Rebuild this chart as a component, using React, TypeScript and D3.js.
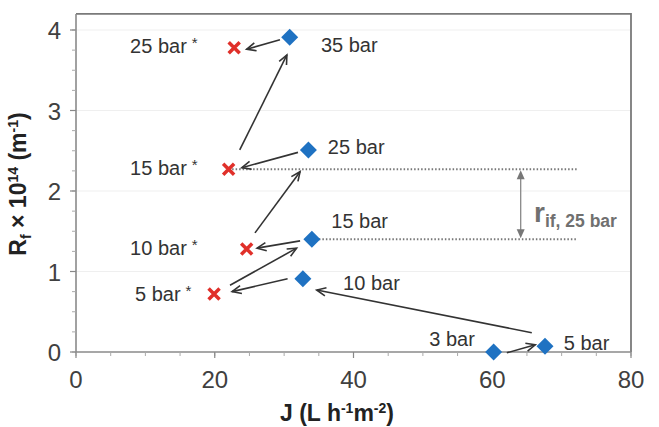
import React from "react";
import * as d3 from "d3";

const W = 659, H = 427;
const xTicks = [0, 20, 40, 60, 80];
const yTicks = [0, 1, 2, 3, 4];

// blue diamonds: J, Rf, label
const diamondJ = [30.8, 33.5, 34.0, 32.7, 67.6, 60.2];
const diamondR = [3.91, 2.51, 1.40, 0.91, 0.07, 0.0];
const diamondLabels = ["35 bar", "25 bar", "15 bar", "10 bar", "5 bar", "3 bar"];

// red crosses
const crossJ = [22.8, 22.0, 24.6, 19.9];
const crossR = [3.78, 2.27, 1.28, 0.72];
const crossLabels = ["25 bar", "15 bar", "10 bar", "5 bar"];

// arrows [x1,y1,x2,y2] in data units (head at second point)
const arrows = [
  [29.4, 3.88, 24.6, 3.76],
  [23.6, 2.51, 30.4, 3.69],
  [32.0, 2.48, 23.9, 2.29],
  [25.8, 1.48, 32.3, 2.24],
  [32.3, 1.38, 26.1, 1.29],
  [22.2, 0.83, 31.8, 1.29],
  [30.5, 0.91, 22.5, 0.75],
  [65.7, 0.24, 34.7, 0.77],
  [62.1, -0.01, 66.2, 0.09],
];

// label positions in data units [x, y, anchor]
const diamondLabelPos = [
  [35.3, 3.73, "start"],
  [36.3, 2.46, "start"],
  [36.8, 1.54, "start"],
  [38.5, 0.77, "start"],
  [70.3, 0.02, "start"],
  [57.5, 0.07, "end"],
];
const crossLabelPos = [
  [7.8, 3.72, "start"],
  [7.8, 2.20, "start"],
  [7.8, 1.20, "start"],
  [8.5, 0.63, "start"],
];

const dottedLines = [
  [22.0, 2.27, 72.3],
  [34.0, 1.40, 72.3],
];

export default function App() {
  const x = d3.scaleLinear().domain([0, 80]).range([76, 631]);
  const y = d3.scaleLinear().domain([0, 4]).range([352, 30]);
  const top = y(4.2);
  const minorX = d3.range(0, 81, 5);
  const minorY = d3.range(0, 4.21, 0.25);
  const sans = "Liberation Sans, Arial, sans-serif";

  const arrowHead = (x1: number, y1: number, x2: number, y2: number, len = 10, ang = 0.42) => {
    const a = Math.atan2(y2 - y1, x2 - x1);
    const p1 = [x2 - len * Math.cos(a - ang), y2 - len * Math.sin(a - ang)];
    const p2 = [x2 - len * Math.cos(a + ang), y2 - len * Math.sin(a + ang)];
    return `M${p1[0]},${p1[1]}L${x2},${y2}L${p2[0]},${p2[1]}`;
  };

  const dArrowX = x(64.1);
  const dTop = y(2.27), dBot = y(1.40);

  return (
    <svg width={W} height={H} style={{ position: "absolute", left: 0, top: 0, background: "#fff" }}>
      {/* gridlines */}
      {yTicks.filter((t) => t > 0).map((t) => (
        <line key={"g" + t} x1={x(0)} x2={x(80)} y1={y(t)} y2={y(t)} stroke="#efefef" strokeWidth={1.2} />
      ))}
      {/* frame */}
      <path d={`M${x(0)},${top}H${x(80)}V${y(0)}`} fill="none" stroke="#7a7a7a" strokeWidth={1.8} />
      <path d={`M${x(0)},${top}V${y(0)}H${x(80)}`} fill="none" stroke="#8a8a8a" strokeWidth={1.6} />
      {/* minor ticks */}
      {minorX.map((t) => (
        <line key={"mx" + t} x1={x(t)} x2={x(t)} y1={y(0)} y2={y(0) + 4} stroke="#aaa" strokeWidth={1} />
      ))}
      {minorY.map((t) => (
        <line key={"my" + t} x1={x(0) - 4} x2={x(0)} y1={y(t)} y2={y(t)} stroke="#aaa" strokeWidth={1} />
      ))}
      {xTicks.map((t) => (
        <line key={"tx" + t} x1={x(t)} x2={x(t)} y1={y(0)} y2={y(0) + 6} stroke="#888" strokeWidth={1.2} />
      ))}
      {yTicks.map((t) => (
        <line key={"ty" + t} x1={x(0) - 6} x2={x(0)} y1={y(t)} y2={y(t)} stroke="#888" strokeWidth={1.2} />
      ))}
      {/* tick labels */}
      {xTicks.map((t) => (
        <text key={"lx" + t} x={x(t)} y={y(0) + 36} textAnchor="middle" fontFamily={sans} fontSize={24} fill="#404040">{t}</text>
      ))}
      {yTicks.map((t) => (
        <text key={"ly" + t} x={x(0) - 15} y={y(t) + 9} textAnchor="end" fontFamily={sans} fontSize={24} fill="#404040">{t}</text>
      ))}
      {/* axis titles */}
      <text x={337} y={421} textAnchor="middle" fontFamily={sans} fontSize={23} fontWeight="bold" fill="#222">
        J (L h<tspan dy={-8} fontSize={14}>-1</tspan><tspan dy={8}>m</tspan><tspan dy={-8} fontSize={14}>-2</tspan><tspan dy={8}>)</tspan>
      </text>
      <text transform="translate(26,184) rotate(-90)" textAnchor="middle" fontFamily={sans} fontSize={23} fontWeight="bold" fill="#222">
        R<tspan dy={5} fontSize={14}>f</tspan><tspan dy={-5}> × 10</tspan><tspan dy={-8} fontSize={14}>14</tspan><tspan dy={8}> (m</tspan><tspan dy={-8} fontSize={14}>-1</tspan><tspan dy={8}>)</tspan>
      </text>
      {/* dotted lines */}
      {dottedLines.map(([x1, yy, x2], i) => (
        <line key={"d" + i} x1={x(x1)} x2={x(x2)} y1={y(yy)} y2={y(yy)} stroke="#777" strokeWidth={2} strokeDasharray="1.5,2" />
      ))}
      {/* double arrow */}
      <line x1={dArrowX} x2={dArrowX} y1={dTop + 8} y2={dBot - 8} stroke="#888" strokeWidth={1.3} />
      <path d={`M${dArrowX},${dTop + 1}L${dArrowX - 4},${dTop + 10}L${dArrowX + 4},${dTop + 10}Z`} fill="#777" />
      <path d={`M${dArrowX},${dBot - 1}L${dArrowX - 4},${dBot - 10}L${dArrowX + 4},${dBot - 10}Z`} fill="#777" />
      <text x={534} y={222} fontFamily={sans} fontWeight="bold" fill="#707070" fontSize={28}>
        r<tspan dy={5} fontSize={17.5}>if, 25 bar</tspan>
      </text>
      {/* arrows */}
      {arrows.map(([x1, y1, x2, y2], i) => (
        <g key={"a" + i} stroke="#333" strokeWidth={1.6} fill="none">
          <line x1={x(x1)} y1={y(y1)} x2={x(x2)} y2={y(y2)} />
          <path d={arrowHead(x(x1), y(y1), x(x2), y(y2))} />
        </g>
      ))}
      {/* diamonds */}
      {diamondJ.map((j, i) => {
        const cx = x(j), cy = y(diamondR[i]), s = 8.5;
        return <path key={"dm" + i} d={`M${cx},${cy - s}L${cx + s},${cy}L${cx},${cy + s}L${cx - s},${cy}Z`} fill="#1f72c2" />;
      })}
      {/* crosses */}
      {crossJ.map((j, i) => {
        const cx = x(j), cy = y(crossR[i]), s = 5.5;
        return (
          <path key={"cr" + i} d={`M${cx - s},${cy - s}L${cx + s},${cy + s}M${cx - s},${cy + s}L${cx + s},${cy - s}`} stroke="#e0302a" strokeWidth={3.5} />
        );
      })}
      {/* labels */}
      {diamondLabels.map((l, i) => {
        const [lx, ly, anc] = diamondLabelPos[i] as [number, number, string];
        return <text key={"dl" + i} x={x(lx)} y={y(ly)} textAnchor={anc as any} fontFamily={sans} fontSize={20} fill="#333">{l}</text>;
      })}
      {crossLabels.map((l, i) => {
        const [lx, ly, anc] = crossLabelPos[i] as [number, number, string];
        return (
          <text key={"cl" + i} x={x(lx)} y={y(ly)} textAnchor={anc as any} fontFamily={sans} fontSize={20} fill="#333">
            {l}<tspan dx={5} dy={-5} fontSize={15}>*</tspan>
          </text>
        );
      })}
    </svg>
  );
}
